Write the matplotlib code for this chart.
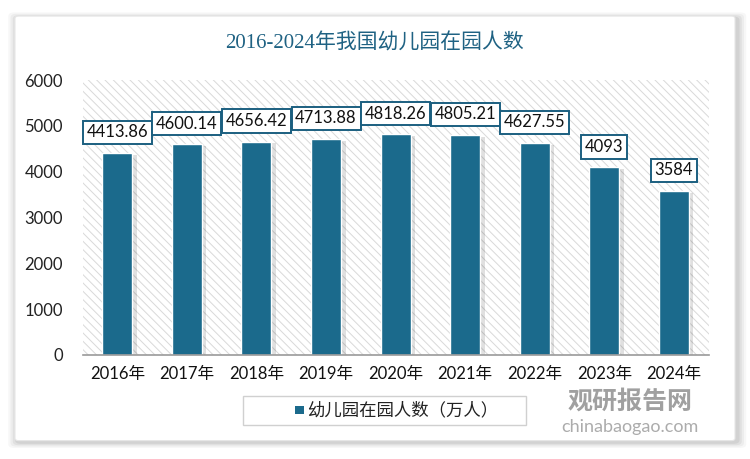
import matplotlib
matplotlib.use('Agg')
import matplotlib.pyplot as plt
from matplotlib.patches import FancyBboxPatch, Rectangle

plt.rcParams['font.family'] = ['Lato', 'Noto Sans CJK SC']
plt.rcParams['hatch.color'] = '#d9d9d9'
plt.rcParams['hatch.linewidth'] = 0.7

years = ['2016年', '2017年', '2018年', '2019年', '2020年', '2021年', '2022年', '2023年', '2024年']
enrolment = [4413.86, 4600.14, 4656.42, 4713.88, 4818.26, 4805.21, 4627.55, 4093, 3584]
value_labels = ['4413.86', '4600.14', '4656.42', '4713.88', '4818.26', '4805.21', '4627.55', '4093', '3584']
y_ticks = [0, 1000, 2000, 3000, 4000, 5000, 6000]

title = '2016-2024年我国幼儿园在园人数'
series_name = '幼儿园在园人数（万人）'

bar_color = '#1b6a8c'
title_color = '#1f6283'

fig = plt.figure(figsize=(7.5, 4.59), dpi=100)
fig.patch.set_facecolor('white')

# card with soft shadow
for i, a in enumerate([0.03, 0.04, 0.05, 0.06]):
    pad = 0.012 - i * 0.003
    fig.patches.append(FancyBboxPatch((0.02 - pad + 0.003, 0.04 - pad - 0.004),
                                      0.96 + 2 * pad, 0.925 + 2 * pad,
                                      boxstyle='round,pad=0,rounding_size=0.008',
                                      transform=fig.transFigure, facecolor='black',
                                      alpha=a, edgecolor='none', zorder=0))
fig.patches.append(FancyBboxPatch((0.02, 0.04), 0.96, 0.925,
                                  boxstyle='round,pad=0,rounding_size=0.005',
                                  transform=fig.transFigure, facecolor='white',
                                  edgecolor='#e6e6e6', linewidth=0.8, zorder=1))

ax = fig.add_axes([0.110, 0.2266, 0.835, 0.599])
ax.set_zorder(2)
ax.patch.set_alpha(0)

# hatched plot area
ax.add_patch(Rectangle((0, 0), 1, 1, transform=ax.transAxes, facecolor='white',
                       edgecolor='#d9d9d9', hatch='\\\\\\\\', linewidth=0, zorder=0))

x = list(range(len(years)))
# bar shadows
ax.bar([xi + 0.06 for xi in x], [v - 40 for v in enrolment], width=0.44,
       color='#000000', alpha=0.12, zorder=1)
ax.bar(x, enrolment, width=0.43, color=bar_color, edgecolor='white', linewidth=1.0, zorder=2)

for xi, v, lab in zip(x, enrolment, value_labels):
    ax.annotate(lab, (xi, v), xytext=(0, 9), textcoords='offset points',
                ha='center', va='bottom', fontsize=12, color='#111111', zorder=4,
                bbox=dict(boxstyle='square,pad=0.22', facecolor='white',
                          edgecolor='#1b5f80', linewidth=1.4))

ax.set_xlim(-0.5, len(years) - 0.5)
ax.set_ylim(0, 6000)
ax.set_yticks(y_ticks)
ax.set_yticklabels([str(t) for t in y_ticks], fontsize=12, color='#222222')
ax.set_xticks(x)
ax.set_xticklabels(years, fontsize=12, color='#111111')
ax.tick_params(axis='both', length=0, pad=8)
ax.tick_params(axis='y', pad=14)
for s in ['top', 'right', 'left']:
    ax.spines[s].set_visible(False)
ax.spines['bottom'].set_color('#9a9a9a')
ax.spines['bottom'].set_linewidth(1.2)
ax.spines['bottom'].set_zorder(3)

fig.text(0.5, 0.905, title, ha='center', va='center', fontsize=15,
         color=title_color, family=['Liberation Serif', 'Noto Sans CJK SC'], zorder=3)

# legend
fig.patches.append(Rectangle((0.324, 0.073), 0.377, 0.065, transform=fig.transFigure,
                             facecolor='white', edgecolor='#d0d0d0', linewidth=1, zorder=3))
fig.patches.append(Rectangle((0.393, 0.097), 0.012, 0.018, transform=fig.transFigure,
                             facecolor=bar_color, edgecolor='none', zorder=4))
fig.text(0.41, 0.106, series_name, ha='left', va='center', fontsize=12.5,
         color='#222222', zorder=4)

# watermark
fig.text(0.84, 0.127, '观研报告网', ha='center', va='center', fontsize=18,
         fontweight='bold', color='#808080', alpha=0.75, zorder=5)
fig.text(0.84, 0.07, 'chinabaogao.com', ha='center', va='center', fontsize=13,
         color='#909090', alpha=0.75, zorder=5)

fig.savefig('out.png', dpi=100, facecolor=fig.get_facecolor())
